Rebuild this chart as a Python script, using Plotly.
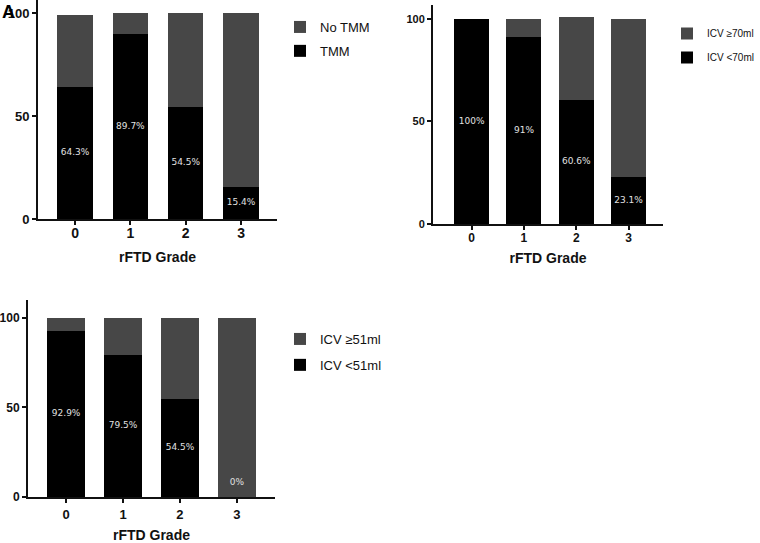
import plotly.graph_objects as go

W, H = 760, 543

grades = ["0", "1", "2", "3"]

# Panel A: TMM
tmm = [64.3, 89.7, 54.5, 15.4]
no_tmm = [34.6, 10.3, 45.5, 84.6]
tmm_labels = ["64.3%", "89.7%", "54.5%", "15.4%"]

# Panel B: ICV 70 ml
icv70_lt = [100, 91, 60.6, 23.1]
icv70_ge = [0, 9, 40.4, 76.9]
icv70_labels = ["100%", "91%", "60.6%", "23.1%"]

# Panel C: ICV 51 ml
icv51_lt = [92.9, 79.5, 54.5, 0]
icv51_ge = [7.1, 20.5, 45.5, 100]
icv51_labels = ["92.9%", "79.5%", "54.5%", "0%"]

y_ticks = [0, 50, 100]

BLACK = "#000000"
GRAY = "#474747"
LABEL_COLOR = "#e0e0e0"


def px_x(p):
    return p / W


def px_y(p):
    return 1 - p / H


panels = [
    dict(ax="", low=tmm, high=no_tmm, labels=tmm_labels,
         low_name="TMM", high_name="No TMM", legend="legend", width=0.64),
    dict(ax="2", low=icv70_lt, high=icv70_ge, labels=icv70_labels,
         low_name="ICV <70ml", high_name="ICV \u226570ml", legend="legend2", width=0.67),
    dict(ax="3", low=icv51_lt, high=icv51_ge, labels=icv51_labels,
         low_name="ICV <51ml", high_name="ICV \u226551ml", legend="legend3", width=0.67),
]

fig = go.Figure()
for p in panels:
    xa, ya = "x" + p["ax"], "y" + p["ax"]
    fig.add_trace(go.Bar(x=grades, y=p["low"], name=p["low_name"], marker_color=BLACK,
                         marker_line_width=0, width=p["width"], xaxis=xa, yaxis=ya,
                         legend=p["legend"], legendgroup=p["legend"] + "a", legendrank=2,
                         hoverinfo="skip"))
    fig.add_trace(go.Bar(x=grades, y=p["high"], name=p["high_name"], marker_color=GRAY,
                         marker_line_width=0, width=p["width"], xaxis=xa, yaxis=ya,
                         legend=p["legend"], legendgroup=p["legend"] + "b", legendrank=1,
                         hoverinfo="skip"))
    label_y = [v / 2 if v > 0 else 8 for v in p["low"]]
    fig.add_trace(go.Scatter(x=grades, y=label_y, text=p["labels"], mode="text",
                             textfont=dict(family="DejaVu Sans", size=9, color=LABEL_COLOR),
                             xaxis=xa, yaxis=ya, showlegend=False, hoverinfo="skip"))

axis_common = dict(showgrid=False, zeroline=False, showline=True, linecolor="#111111",
                   linewidth=2, ticks="outside", tickcolor="#111111", tickwidth=2,
                   fixedrange=True, automargin=False)


def xaxis(dom, rng, anchor, fs, standoff, tls):
    return dict(axis_common, domain=[px_x(dom[0]), px_x(dom[1])], range=rng, anchor=anchor,
                type="category", categoryorder="array", categoryarray=grades, ticklen=4,
                ticklabelstandoff=tls,
                tickfont=dict(family="Liberation Sans", size=fs, color="#111111", weight="bold"),
                title=dict(text="rFTD Grade", standoff=standoff,
                           font=dict(family="Liberation Sans", size=14, color="#111111", weight="bold")))


def yaxis(dom, rng, anchor, fs):
    return dict(axis_common, domain=[px_y(dom[1]), px_y(dom[0])], range=rng, anchor=anchor,
                tickvals=y_ticks, ticklen=4,
                tickfont=dict(family="Liberation Sans", size=fs, color="#111111", weight="bold"))


legend_common = dict(xanchor="left", yanchor="top", traceorder="grouped",
                     bgcolor="rgba(0,0,0,0)")

fig.update_layout(
    template="none",
    width=W, height=H,
    margin=dict(l=0, r=0, t=0, b=0),
    paper_bgcolor="white", plot_bgcolor="white",
    barmode="stack",
    xaxis=xaxis((38, 277), [-0.67, 3.65], "y", 14, 12, -4),
    yaxis=yaxis((0, 219), [0, 106.3], "x", 13),
    xaxis2=xaxis((433, 663), [-0.74, 3.66], "y2", 12, 9, -2),
    yaxis2=yaxis((5, 224), [0, 106.8], "x2", 11),
    xaxis3=xaxis((28, 275), [-0.67, 3.67], "y3", 13, 10, 0),
    yaxis3=yaxis((300, 497), [0, 110], "x3", 12),
    legend=dict(legend_common, x=px_x(280), y=px_y(12), tracegroupgap=4,
                font=dict(family="Liberation Sans", size=13, color="#111111")),
    legend2=dict(legend_common, x=px_x(667), y=px_y(19), tracegroupgap=5,
                 font=dict(family="Liberation Sans", size=10, color="#111111")),
    legend3=dict(legend_common, x=px_x(280), y=px_y(324), tracegroupgap=6,
                 font=dict(family="Liberation Sans", size=13, color="#111111")),
    annotations=[dict(text="A", x=px_x(0), y=px_y(12), xref="paper", yref="paper",
                      xanchor="left", yanchor="middle", showarrow=False,
                      font=dict(family="Liberation Sans", size=18, color="#000000", weight="bold"))],
)

fig.write_html("out.html", config={"displayModeBar": False},
               post_script="document.body.style.margin='0';")
